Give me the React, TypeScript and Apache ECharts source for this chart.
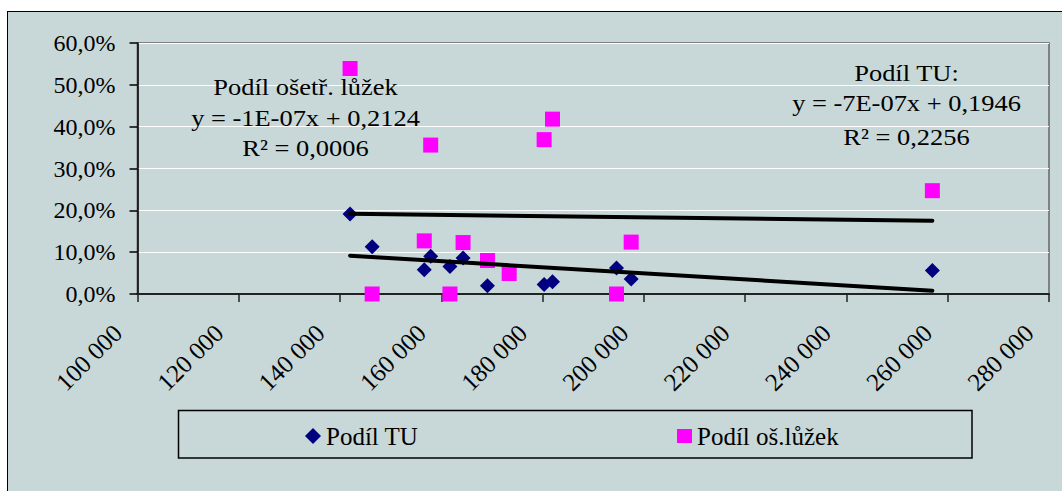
import React, { useEffect, useRef } from "react";
import * as echarts from "echarts";

// Each hospital: size on the x axis and its two shares
const xValues = [141980, 146340, 156630, 157900, 161700, 164290, 169110, 173400, 180300, 181950, 194590, 197490, 256970];
const podilTU = [0.191, 0.113, 0.058, 0.09, 0.066, 0.086, 0.02, 0.049, 0.023, 0.029, 0.062, 0.036, 0.056];
const podilLuzek = [0.539, 0.0, 0.127, 0.356, 0.0, 0.123, 0.08, 0.049, 0.369, 0.418, 0.0, 0.124, 0.247];

// Axis ticks
const xTicks = [100000, 120000, 140000, 160000, 180000, 200000, 220000, 240000, 260000, 280000];
const yTicks = [0, 0.1, 0.2, 0.3, 0.4, 0.5, 0.6];

// Linear trend lines (y = slope * x + intercept) with their R²
const trendTU = { slope: -7.26e-7, intercept: 0.1946, r2: 0.2256 };
const trendLuzek = { slope: -1.45e-7, intercept: 0.2124, r2: 0.0006 };

const SERIES_TU = "Podíl TU";
const SERIES_LUZEK = "Podíl oš.lůžek";

const FONT = "Liberation Serif, Times New Roman, serif";

const fmtComma = (v: number, d: number) => v.toFixed(d).replace(".", ",");
const fmtPercent = (v: number) => fmtComma(v * 100, 1) + "%";
const fmtThousands = (v: number) => String(v).replace(/\B(?=(\d{3})+(?!\d))/g, " ");
const fmtSlope = (v: number) => {
  const [m, e] = v.toExponential(0).split("e");
  const exp = Number(e);
  const expStr = (exp < 0 ? "-" : "+") + String(Math.abs(exp)).padStart(2, "0");
  return `${m}E${expStr}`;
};
const equation = (t: { slope: number; intercept: number }) =>
  `y = ${fmtSlope(t.slope)}x + ${fmtComma(t.intercept, 4)}`;
const rSquared = (t: { r2: number }) => `R² = ${fmtComma(t.r2, 4)}`;

const xMinData = Math.min(...xValues);
const xMaxData = Math.max(...xValues);
const trendPoints = (t: { slope: number; intercept: number }) => [
  [xMinData, t.slope * xMinData + t.intercept],
  [xMaxData, t.slope * xMaxData + t.intercept],
];

const annotation = (text: string, x: number, y: number) => ({
  type: "text",
  x,
  y,
  scaleX: 1.15,
  z: 10,
  style: {
    text,
    fill: "#000",
    fontFamily: FONT,
    fontSize: 23,
    align: "center",
    verticalAlign: "middle",
  },
});

export default function App() {
  const ref = useRef<HTMLDivElement>(null);

  useEffect(() => {
    if (!ref.current) return;
    const chart = echarts.init(ref.current, null, { renderer: "svg" });

    const option: any = {
      animation: false,
      backgroundColor: "transparent",
      textStyle: { fontFamily: FONT },
      grid: {
        left: 137.5,
        right: 13,
        top: 43,
        bottom: 197,
        show: true,
        borderColor: "#808080",
        borderWidth: 2,
        backgroundColor: "transparent",
        containLabel: false,
        outerBoundsMode: "none",
      },
      xAxis: {
        type: "value",
        min: xTicks[0],
        max: xTicks[xTicks.length - 1],
        interval: xTicks[1] - xTicks[0],
        axisLine: { show: true, onZero: false, lineStyle: { color: "#222", width: 2 } },
        axisTick: { show: true, inside: false, length: 8, lineStyle: { color: "#222", width: 1.5 } },
        splitLine: { show: false },
        axisLabel: {
          rotate: 45,
          margin: 15,
          padding: [0, 28, 0, 0],
          color: "#000",
          fontFamily: FONT,
          fontSize: 25,
          formatter: (v: number) => fmtThousands(v),
          showMinLabel: true,
          showMaxLabel: true,
        },
      },
      yAxis: {
        type: "value",
        min: yTicks[0],
        max: yTicks[yTicks.length - 1],
        interval: yTicks[1] - yTicks[0],
        axisLine: { show: true, lineStyle: { color: "#000", width: 1.5 } },
        axisTick: { show: true, inside: false, length: 8, lineStyle: { color: "#000", width: 1.5 } },
        splitLine: { show: true, lineStyle: { color: "#ffffff", width: 1 } },
        axisLabel: {
          margin: 22,
          color: "#000",
          fontFamily: FONT,
          fontSize: 24,
          formatter: (v: number) => fmtPercent(v),
        },
      },
      legend: [
        {
          data: [{ name: SERIES_TU, icon: "diamond" }],
          left: 305,
          top: 422,
          padding: 0,
          itemWidth: 16,
          itemHeight: 16,
          selectedMode: false,
          textStyle: { color: "#000", fontFamily: FONT, fontSize: 25, lineHeight: 28 },
        },
        {
          data: [{ name: SERIES_LUZEK, icon: "rect" }],
          left: 677,
          top: 422,
          padding: 0,
          itemWidth: 15,
          itemHeight: 14,
          selectedMode: false,
          textStyle: { color: "#000", fontFamily: FONT, fontSize: 25, lineHeight: 28 },
        },
      ],
      graphic: [
        {
          type: "rect",
          shape: { x: 178.5, y: 410.5, width: 793.5, height: 47.5 },
          style: { fill: "none", stroke: "#000", lineWidth: 1.5 },
          z: 1,
        },
        annotation("Podíl ošetř. lůžek", 305.5, 87.5),
        annotation(equation(trendLuzek), 305.5, 118),
        annotation(rSquared(trendLuzek), 305.5, 148.5),
        annotation("Podíl TU:", 906.5, 73),
        annotation(equation(trendTU), 906.5, 103.5),
        annotation(rSquared(trendTU), 906.5, 137),
      ],
      series: [
        {
          name: SERIES_TU,
          type: "scatter",
          symbol: "diamond",
          symbolSize: 15,
          clip: false,
          z: 3,
          itemStyle: { color: "#000080", opacity: 1 },
          data: xValues.map((x, i) => [x, podilTU[i]]),
        },
        {
          name: SERIES_LUZEK,
          type: "scatter",
          symbol: "rect",
          symbolSize: 15,
          clip: false,
          z: 4,
          itemStyle: { color: "#FF00FF", opacity: 1 },
          data: xValues.map((x, i) => [x, podilLuzek[i]]),
        },
        {
          name: "trend TU",
          type: "line",
          showSymbol: false,
          silent: true,
          z: 5,
          lineStyle: { color: "#000", width: 4, cap: "round" },
          data: trendPoints(trendTU),
        },
        {
          name: "trend lůžka",
          type: "line",
          showSymbol: false,
          silent: true,
          z: 5,
          lineStyle: { color: "#000", width: 4, cap: "round" },
          data: trendPoints(trendLuzek),
        },
      ],
    };

    chart.setOption(option);
    return () => chart.dispose();
  }, []);

  return (
    <div
      style={{
        position: "fixed",
        left: 0,
        top: 0,
        width: 1062,
        height: 491,
        overflow: "hidden",
        background: "#ffffff",
      }}
    >
      <div
        style={{
          position: "absolute",
          left: 7,
          top: 11,
          width: 1100,
          height: 520,
          background: "#C8D8D8",
          borderLeft: "1.5px solid #000",
          borderTop: "1.5px solid #000",
        }}
      />
      <div ref={ref} style={{ position: "absolute", left: 0, top: 0, width: 1062, height: 491 }} />
    </div>
  );
}
